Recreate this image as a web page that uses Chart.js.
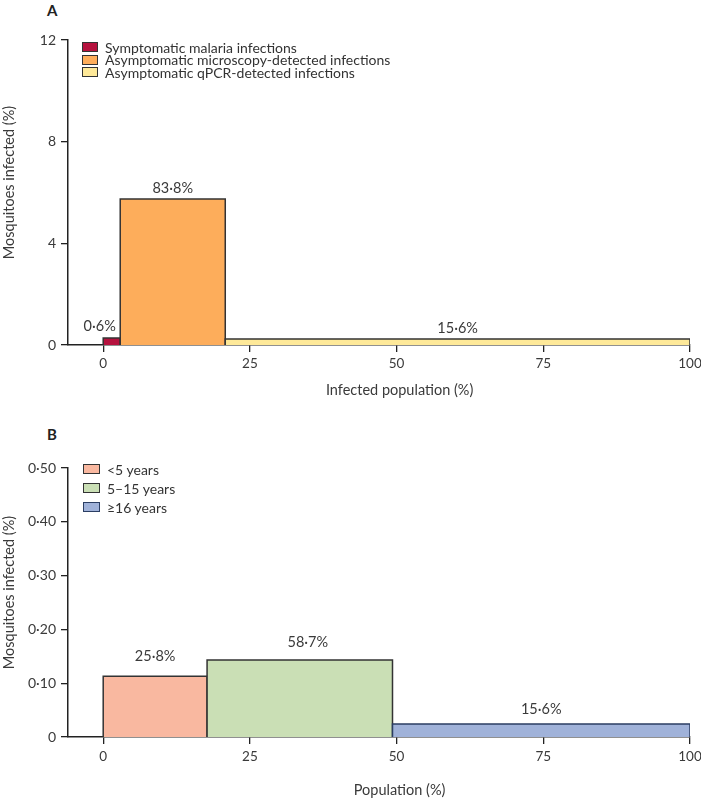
<!DOCTYPE html>
<html>
<head>
<meta charset="utf-8">
<script src="https://cdn.jsdelivr.net/npm/chart.js@4.4.1/dist/chart.umd.min.js"></script>
<style>
  html, body { margin: 0; padding: 0; background: #fff; }
  #wrap { position: relative; width: 701px; height: 798px; overflow: hidden; font-family: Lato, "Open Sans", sans-serif; color: #333; }
  .panel { position: absolute; left: 0; width: 701px; }
  .letter { position: absolute; font-weight: bold; font-size: 15px; color: #222; line-height: 1; }
  .legend { position: absolute; font-size: 14px; color: #333; }
  .legend .row { position: absolute; left: 0; white-space: nowrap; display: flex; align-items: center; height: 14px; }
  .legend .box { box-sizing: border-box; border: 1.5px solid #333; display: inline-block; }
</style>
</head>
<body>
<div id="wrap">
  <div class="letter" style="left:47px;top:3px;">A</div>
  <div class="letter" style="left:47px;top:427px;">B</div>
  <div class="panel" style="top:0;height:400px;"><canvas id="chartA"></canvas></div>
  <div class="panel" style="top:400px;height:398px;"><canvas id="chartB"></canvas></div>
  <div class="legend" id="legendA" style="left:82px;top:40px;"></div>
  <div class="legend" id="legendB" style="left:83px;top:462px;"></div>
</div>
<script>
// ---------- Data: panel A ----------
const categoriesA = ['Symptomatic malaria infections', 'Asymptomatic microscopy-detected infections', 'Asymptomatic qPCR-detected infections'];
const populationShareA = [2.9, 17.9, 79.2];          // width of each bar, % of infected population
const mosquitoesInfectedA = [0.28, 5.74, 0.24];      // height, % mosquitoes infected
const barLabelsA = ['0·6%', '83·8%', '15·6%'];
const yTickValuesA = [0, 4, 8, 12];
const yTickLabelsA = ['0', '4', '8', '12'];

// ---------- Data: panel B ----------
const categoriesB = ['<5 years', '5–15 years', '≥16 years'];
const populationShareB = [17.7, 31.6, 50.7];
const mosquitoesInfectedB = [0.113, 0.143, 0.024];
const barLabelsB = ['25·8%', '58·7%', '15·6%'];
const yTickValuesB = [0, 0.1, 0.2, 0.3, 0.4, 0.5];
const yTickLabelsB = ['0', '0·10', '0·20', '0·30', '0·40', '0·50'];

const xTickValues = [0, 25, 50, 75, 100];
const xTickLabels = ['0', '25', '50', '75', '100'];

// ---------- Styles ----------
const coloursA = ['#B5123E', '#FDAD5B', '#FEE999'];
const coloursB = ['#F9B8A0', '#CADFB5', '#A0B2D9'];
const edgeA = ['#333333', '#333333', '#333333'];
const edgeB = ['#333333', '#333333', '#2B3E63'];
const FONT = 'Lato, "Open Sans", sans-serif';
const INK = '#3a3a3a';

function rectDatasets(shares, heights, colours, edges) {
  let x0 = 0;
  return shares.map((w, i) => {
    const x1 = x0 + w;
    const h = heights[i];
    const ds = {
      type: 'line',
      data: [{x: x0, y: 0}, {x: x0, y: h}, {x: x1, y: h}, {x: x1, y: 0}],
      backgroundColor: colours[i],
      borderColor: edges[i],
      borderWidth: 1.5,
      fill: 'origin',
      pointRadius: 0,
      tension: 0,
      order: shares.length - i
    };
    x0 = x1;
    return ds;
  });
}

function buildLegend(id, cats, colours, edges, rowGap, boxW) {
  const el = document.getElementById(id);
  cats.forEach((c, i) => {
    const row = document.createElement('div');
    row.className = 'row';
    row.style.top = (i * rowGap) + 'px';
    const box = document.createElement('span');
    box.className = 'box';
    box.style.width = boxW + 'px';
    box.style.height = '10px';
    box.style.background = colours[i];
    box.style.borderColor = edges[i];
    box.style.marginRight = '7px';
    const t = document.createElement('span');
    t.textContent = c;
    row.appendChild(box); row.appendChild(t);
    el.appendChild(row);
  });
}
buildLegend('legendA', categoriesA, coloursA, edgeA, 12.5, 16);
buildLegend('legendB', categoriesB, coloursB, edgeB, 19, 17);

function makeChart(canvasId, cfg) {
  const labelPlugin = {
    id: 'barLabels_' + canvasId,
    afterDatasetsDraw(chart) {
      const ctx = chart.ctx;
      const xs = chart.scales.x, ys = chart.scales.y;
      ctx.save();
      ctx.font = '14.5px ' + FONT;
      ctx.fillStyle = INK;
      ctx.textAlign = 'center';
      ctx.textBaseline = 'middle';
      let x0 = 0;
      cfg.shares.forEach((w, i) => {
        const cx = (xs.getPixelForValue(x0) + xs.getPixelForValue(x0 + w)) / 2 + cfg.labelDx[i];
        const cy = ys.getPixelForValue(cfg.heights[i]) - cfg.labelDy[i];
        ctx.fillText(cfg.labels[i], cx, cy);
        x0 += w;
      });
      // axis titles
      ctx.font = '14.5px ' + FONT;
      ctx.fillText(cfg.xTitle, xs.getPixelForValue(50) + 3, cfg.xTitleY);
      ctx.translate(cfg.yTitleX, (ys.top + ys.bottom) / 2 - 10);
      ctx.rotate(-Math.PI / 2);
      ctx.fillText(cfg.yTitle, 0, 0);
      ctx.restore();
    }
  };
  return new Chart(document.getElementById(canvasId), {
    type: 'line',
    data: { datasets: rectDatasets(cfg.shares, cfg.heights, cfg.colours, cfg.edges) },
    options: {
      responsive: true,
      maintainAspectRatio: false,
      animation: false,
      events: [],
      layout: { padding: { top: cfg.padTop, right: 11, left: 0, bottom: 0 } },
      plugins: { legend: { display: false }, tooltip: { enabled: false } },
      scales: {
        x: {
          type: 'linear', min: -6, max: 100,
          afterBuildTicks: s => { s.ticks = xTickValues.map(v => ({ value: v })); },
          afterFit: s => { s.height = cfg.xHeight; s.paddingLeft = 0; s.paddingRight = 0; },
          ticks: {
            autoSkip: false, maxRotation: 0, padding: cfg.xTickPad,
            color: INK, font: { family: FONT, size: 13.5 },
            callback: (v) => xTickLabels[xTickValues.indexOf(v)]
          },
          grid: { display: true, drawOnChartArea: false, drawTicks: true, tickLength: 7, color: '#222', lineWidth: 1.3 },
          border: { display: true, color: '#222', width: 1.5 }
        },
        y: {
          type: 'linear', min: cfg.yTicks[0], max: cfg.yTicks[cfg.yTicks.length - 1],
          afterBuildTicks: s => { s.ticks = cfg.yTicks.map(v => ({ value: v })); },
          afterFit: s => { s.width = 68; s.paddingTop = 0; s.paddingBottom = 0; },
          ticks: {
            autoSkip: false, padding: 5, color: INK, font: { family: FONT, size: 14 },
            callback: (v) => cfg.yTickLabels[cfg.yTicks.findIndex(t => Math.abs(t - v) < 1e-9)]
          },
          grid: { display: true, drawOnChartArea: false, drawTicks: true, tickLength: 7, color: '#222', lineWidth: 1.3 },
          border: { display: true, color: '#222', width: 1.5 }
        }
      }
    },
    plugins: [labelPlugin]
  });
}

makeChart('chartA', {
  shares: populationShareA, heights: mosquitoesInfectedA, colours: coloursA, edges: edgeA,
  labels: barLabelsA, labelDx: [-12, 0, 0], labelDy: [12, 11, 11],
  yTicks: yTickValuesA, yTickLabels: yTickLabelsA,
  padTop: 40, xHeight: 55, xTickPad: 4,
  xTitle: 'Infected population (%)', xTitleY: 390,
  yTitle: 'Mosquitoes infected (%)', yTitleX: 9
});

makeChart('chartB', {
  shares: populationShareB, heights: mosquitoesInfectedB, colours: coloursB, edges: edgeB,
  labels: barLabelsB, labelDx: [0, 8, 0], labelDy: [20, 18, 15],
  yTicks: yTickValuesB, yTickLabels: yTickLabelsB,
  padTop: 68, xHeight: 61, xTickPad: 5,
  xTitle: 'Population (%)', xTitleY: 390,
  yTitle: 'Mosquitoes infected (%)', yTitleX: 9
});
</script>
</body>
</html>
